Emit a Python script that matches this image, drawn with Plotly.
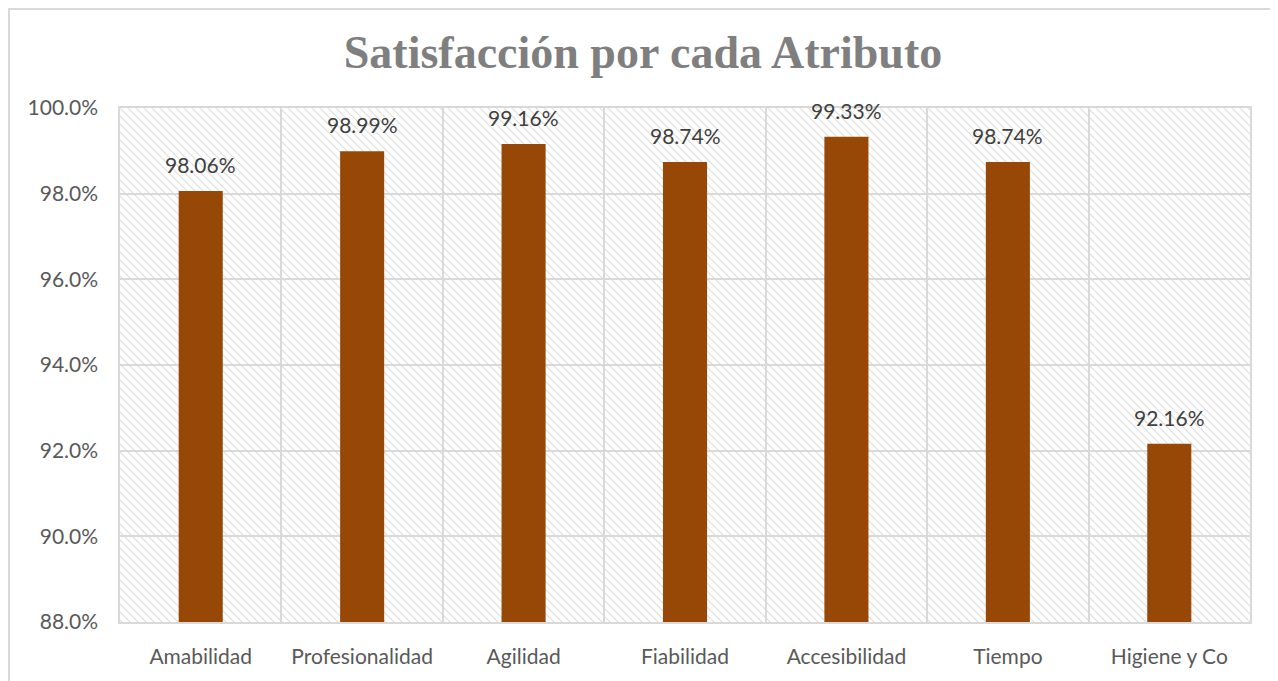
import base64
import plotly.graph_objects as go

# Chart data
categories = ["Amabilidad", "Profesionalidad", "Agilidad", "Fiabilidad",
              "Accesibilidad", "Tiempo", "Higiene y Co"]
satisfaction = [0.9806, 0.9899, 0.9916, 0.9874, 0.9933, 0.9874, 0.9216]
y_ticks = [0.88, 0.90, 0.92, 0.94, 0.96, 0.98, 1.00]

# page has an 8px body margin, so the figure is a bit smaller than the window
W, H = 1270, 673
M = dict(l=112, r=28, t=100, b=59)
pw, ph = W - M["l"] - M["r"], H - M["t"] - M["b"]

# Diagonal hatch for the plot background (Excel-style pattern fill)
svg = f"""<svg xmlns="http://www.w3.org/2000/svg" width="{pw}" height="{ph}">
<defs><pattern id="p" width="8" height="8" patternUnits="userSpaceOnUse">
<path d="M-2,-2 L10,10 M-6,2 L2,10 M6,-2 L10,2" stroke="#dedede" stroke-width="1.2"/>
</pattern></defs>
<rect width="100%" height="100%" fill="white"/>
<rect width="100%" height="100%" fill="url(#p)"/>
</svg>"""
hatch = "data:image/svg+xml;base64," + base64.b64encode(svg.encode()).decode()

fig = go.Figure()
fig.add_trace(go.Bar(
    x=categories,
    y=satisfaction,
    width=0.273,
    marker=dict(color="#974706", line=dict(width=0)),
    hoverinfo="x+y",
))

# value labels above bars
for cat, val in zip(categories, satisfaction):
    fig.add_annotation(x=cat, y=val, text=f"{val * 100:.2f}%", showarrow=False,
                       yanchor="bottom", yshift=12,
                       font=dict(family="Lato", size=21, color="#404040"))

fig.update_layout(
    width=W, height=H,
    margin=M,
    paper_bgcolor="white",
    plot_bgcolor="rgba(0,0,0,0)",
    showlegend=False,
    title=dict(text="<b>Satisfacción por cada Atributo</b>", x=0.5, xref="container",
               y=1 - 44 / H, yanchor="middle",
               font=dict(family="Liberation Serif", size=46, color="#7f7f7f")),
    font=dict(family="Lato", size=21, color="#595959"),
    xaxis=dict(
        tickson="boundaries", showgrid=True, gridcolor="#d9d9d9", gridwidth=1.5,
        showline=True, linecolor="#d9d9d9", linewidth=2, mirror=True,
        ticks="", ticklabelstandoff=15, automargin=False,
        tickfont=dict(size=21, color="#595959"),
    ),
    yaxis=dict(
        range=[0.88, 1.0], tickvals=y_ticks, tickformat=".1%",
        showgrid=True, gridcolor="#d9d9d9", gridwidth=1.5, zeroline=False,
        showline=True, linecolor="#d9d9d9", linewidth=1.5, mirror=True,
        ticks="", ticklabelstandoff=16, automargin=False,
        tickfont=dict(size=21, color="#595959"),
    ),
    images=[dict(source=hatch, xref="paper", yref="paper", x=0, y=1,
                 sizex=1, sizey=1, sizing="stretch", xanchor="left",
                 yanchor="top", layer="below")],
    shapes=[dict(type="rect", xref="paper", yref="paper",
                 x0=(1 - M["l"]) / pw, x1=(W + 20 - M["l"]) / pw,
                 y0=-(M["b"] + 20) / ph, y1=(ph + M["t"] - 1) / ph,
                 line=dict(color="#d9d9d9", width=2), fillcolor="rgba(0,0,0,0)")],
)

fig.write_html("out.html")
